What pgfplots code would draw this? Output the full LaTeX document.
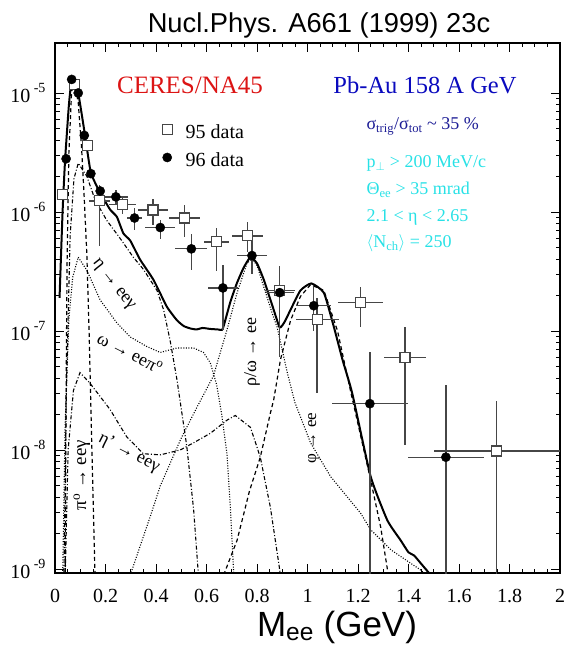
\documentclass[border=0pt]{standalone}
\usepackage{fontspec}
\setmainfont{Liberation Serif}
\newfontfamily\arial{Liberation Sans}
\usepackage{pgfplots}
\pgfplotsset{compat=1.18}
\usepackage{pgfplotstable}
\definecolor{ceresred}{RGB}{220,20,20}
\definecolor{pbblue}{RGB}{10,10,190}
\definecolor{sigblue}{RGB}{30,30,150}
\definecolor{cutcyan}{RGB}{40,225,230}
\definecolor{bargray}{RGB}{70,70,70}

\pgfplotstableread{
m     y       ex    eyp     eym
0.044 2.8e-6  0     0       0
0.066 1.3e-5  0     0       0
0.092 1.0e-5  0     0       0
0.116 4.4e-6  0     0       0
0.142 2.1e-6  0     0       0
0.179 1.5e-6  0     0       0
0.241 1.34e-6 0.05  0.2e-6  0.17e-6
0.315 8.9e-7  0.03  1.8e-7  1.8e-7
0.417 7.4e-7  0.06  1.2e-7  1.5e-7
0.540 4.9e-7  0.063 1.6e-7  1.66e-7
0.665 2.3e-7  0.06  1.26e-7 1.28e-7
0.780 4.3e-7  0.06  1.5e-7  1.27e-7
0.890 2.1e-7  0.055 0.8e-7  0.6e-7
1.025 1.63e-7 0.07  0.7e-7  0.63e-7
1.247 2.45e-8 0.15  4.15e-8 2.449e-8
1.548 8.7e-9  0.15  2.68e-8 8.699e-9
}\dataSix

\pgfplotstableread{
m     y       ex    eyp     eym
0.029 1.4e-6  0     0       0
0.079 1.18e-5 0     0       0
0.130 3.6e-6  0     0       0
0.176 1.24e-6 0.04  0.46e-6 0.72e-6
0.266 1.16e-6 0.053 0.19e-6 0.2e-6
0.388 1.04e-6 0.06  0.25e-6 0.26e-6
0.513 8.9e-7  0.06  2.6e-7  2.7e-7
0.639 5.6e-7  0.05  1.8e-7  2.4e-7
0.761 6.3e-7  0.062 2.0e-7  1.7e-7
0.890 2.2e-7  0.06  1.35e-7 1.6e-7
1.038 1.25e-7 0.085 6.5e-8  9.5e-8
1.210 1.74e-7 0.09  6.0e-8  6.7e-8
1.386 6.0e-8  0.085 4.7e-8  4.9e-8
1.749 9.8e-9  0.25  1.59e-8 9.799e-9
}\dataFive

\newcommand{\tenexp}[1]{10\,\raisebox{10pt}{\fontsize{14}{14}\selectfont #1}}

\begin{document}
\begin{tikzpicture}
\useasboundingbox (0pt,0pt) rectangle (572pt,666pt);
\begin{axis}[
  at={(55pt,93pt)}, anchor=south west,
  scale only axis, width=505pt, height=530pt,
  xmin=0, xmax=2, ymode=log, ymin=9.25e-10, ymax=2.63e-5,
  xtick={0,0.2,0.4,0.6,0.8,1,1.2,1.4,1.6,1.8,2},
  xticklabels={0,0.2,0.4,0.6,0.8,1,1.2,1.4,1.6,1.8,2},
  minor x tick num=3,
  ytick={1e-9,1e-8,1e-7,1e-6,1e-5},
  yticklabels={\tenexp{-9},\tenexp{-8},\tenexp{-7},\tenexp{-6},\tenexp{-5}},
  tick align=inside,
  major tick length=9pt, minor tick length=4.5pt,
  every tick/.style={black, line width=0.7pt},
  axis line style={line width=1.1pt},
  tick label style={font=\fontsize{20}{20}\selectfont},
  xticklabel style={font=\fontsize{20}{20}\selectfont, yshift=-13pt},
  yticklabel style={font=\fontsize{20}{20}\selectfont, xshift=-6pt},
  legend style={draw=none, fill=none, at={(0.205,0.8025)}, anchor=west,
    font=\fontsize{20}{20}\selectfont, inner sep=0pt, row sep=10pt,
    nodes={inner sep=0pt, text height=13pt, text depth=4pt}},
  legend cell align=left,
  legend image code/.code={\draw[draw=none] (0pt,0pt) -- (27pt,0pt); \draw[#1] plot coordinates {(8.5pt,5pt)};},
]
\addlegendimage{only marks, mark=square*, mark size=5pt, mark options={fill=white, draw=bargray, line width=1.1pt}}
\addlegendentry{95 data}
\addlegendimage{only marks, mark=*, mark size=4.6pt, black}
\addlegendentry{96 data}

% total cocktail
\addplot[black, line width=2pt, smooth, tension=0.3] coordinates {
(0.018,1.9e-7)(0.030,1.0e-6)(0.040,2.75e-6)(0.055,7.9e-6)(0.066,1.32e-5)(0.075,1.25e-5)(0.092,1.0e-5)(0.119,4.4e-6)(0.142,2.14e-6)(0.179,1.45e-6)(0.218,1.05e-6)(0.245,9.1e-7)(0.271,6.6e-7)(0.298,5.75e-7)(0.337,3.98e-7)(0.39,2.69e-7)(0.443,1.6e-7)(0.483,1.23e-7)(0.51,1.1e-7)(0.536,1.05e-7)(0.56,1.03e-7)(0.585,1.06e-7)(0.615,1.04e-7)(0.645,1.03e-7)(0.661,1.02e-7)(0.668,1.1e-7)(0.694,1.74e-7)(0.72,2.51e-7)(0.747,3.4e-7)(0.774,4.17e-7)(0.80,3.7e-7)(0.827,2.69e-7)(0.866,1.51e-7)(0.89,1.07e-7)(0.91,1.2e-7)(0.933,1.51e-7)(0.972,2.19e-7)(1.015,2.51e-7)(1.065,2.09e-7)(1.105,1.07e-7)(1.14,5.6e-8)(1.177,3.0e-8)(1.25,6.0e-9)(1.316,2.57e-9)(1.369,1.74e-9)(1.40,1.38e-9)(1.422,1.3e-9)(1.448,1.12e-9)(1.488,8.9e-10)
};
% pi0 Dalitz
\addplot[black, line width=1.2pt, dash pattern=on 4pt off 3pt] coordinates {
(0.040,7.9e-10)(0.044,3.16e-8)(0.048,3.98e-7)(0.055,3.16e-6)(0.066,1.05e-5)(0.08,1.12e-5)(0.092,8.3e-6)(0.105,3.55e-6)(0.115,1.41e-6)(0.126,4.47e-7)(0.135,1.0e-7)(0.145,1.26e-8)(0.159,7.9e-10)
};
% eta Dalitz
\addplot[black, line width=1.1pt, dash pattern=on 4pt off 2pt on 1pt off 2pt] coordinates {
(0.035,7.9e-10)(0.045,3.16e-8)(0.06,6.3e-7)(0.075,1.9e-6)(0.092,2.57e-6)(0.126,2.0e-6)(0.159,1.26e-6)(0.205,8.5e-7)(0.258,6.0e-7)(0.31,4.17e-7)(0.35,3.3e-7)(0.404,2.19e-7)(0.43,1.51e-7)(0.456,8.3e-8)(0.483,3.9e-8)(0.522,1.07e-8)(0.549,3.16e-9)(0.568,8.9e-10)
};
% omega Dalitz
\addplot[black, line width=1.1pt, dash pattern=on 1pt off 1.6pt] coordinates {
(0.03,7.9e-10)(0.04,1.58e-8)(0.055,1.26e-7)(0.07,2.82e-7)(0.092,4.17e-7)(0.126,3.24e-7)(0.179,1.82e-7)(0.245,1.17e-7)(0.298,8.9e-8)(0.364,7.4e-8)(0.417,6.6e-8)(0.483,7.2e-8)(0.549,7.2e-8)(0.588,6.6e-8)(0.615,5.4e-8)(0.64,3.55e-8)(0.66,2.0e-8)(0.681,9.3e-9)(0.695,3.16e-9)(0.708,8.9e-10)
};
% eta' Dalitz
\addplot[black, line width=1.1pt, dash pattern=on 4pt off 2pt on 1pt off 2pt] coordinates {
(0.04,7.9e-10)(0.052,1.0e-8)(0.073,3.16e-8)(0.099,4.47e-8)(0.139,3.63e-8)(0.218,2.19e-8)(0.284,1.29e-8)(0.35,9.3e-9)(0.417,9.1e-9)(0.496,1.0e-8)(0.549,1.15e-8)(0.615,1.38e-8)(0.681,1.78e-8)(0.714,1.95e-8)(0.774,1.55e-8)(0.813,8.7e-9)(0.853,3.3e-9)(0.893,8.9e-10)
};
% rho/omega -> ee
\addplot[black, line width=1.1pt, dash pattern=on 1pt off 1.6pt] coordinates {
(0.298,8.9e-10)(0.377,2.75e-9)(0.417,5.0e-9)(0.5,1.26e-8)(0.56,2.24e-8)(0.627,4.17e-8)(0.681,1.02e-7)(0.721,2.09e-7)(0.76,3.7e-7)(0.78,4.07e-7)(0.80,3.55e-7)(0.827,2.34e-7)(0.86,1.41e-7)(0.88,1.07e-7)(0.92,4.47e-8)(0.95,2.51e-8)(1.012,1.15e-8)(1.091,6.0e-9)(1.21,2.95e-9)(1.25,2.14e-9)(1.33,1.45e-9)(1.448,9.8e-10)(1.5,7.9e-10)
};
% phi -> ee
\addplot[black, line width=1.2pt, dash pattern=on 4pt off 3pt] coordinates {
(0.668,8.9e-10)(0.721,1.74e-9)(0.77,4.5e-9)(0.813,8.7e-9)(0.853,2.04e-8)(0.866,2.63e-8)(0.893,5.75e-8)(0.933,1.23e-7)(0.972,1.95e-7)(1.012,2.45e-7)(1.065,2.19e-7)(1.119,1.0e-7)(1.17,3.16e-8)(1.25,5.6e-9)(1.29,2.24e-9)(1.32,8.9e-10)
};

% 95 data
\addplot[only marks, mark=square*, mark size=5pt, mark options={fill=white, draw=bargray, line width=1.1pt},
  error bars/.cd, x dir=both, x explicit, y dir=both, y explicit,
  error mark=none, error bar style={line width=1.3pt, bargray}]
  table[x=m, y=y, x error=ex, y error plus=eyp, y error minus=eym] {\dataFive};
% 96 data
\addplot[only marks, mark=*, mark size=4.6pt, black,
  error bars/.cd, x dir=both, x explicit, y dir=both, y explicit,
  error mark=none, error bar style={line width=1.3pt, bargray}]
  table[x=m, y=y, x error=ex, y error plus=eyp, y error minus=eym] {\dataSix};
\end{axis}

% title and axis label
\node[font=\arial\fontsize{27.3}{27.3}\selectfont] at (319pt,641pt) {Nucl.Phys. A661 (1999) 23c};
\node[font=\arial\fontsize{35}{35}\selectfont] at (337pt,39pt) {M\textsubscript{ee} (GeV)};

% header texts
\node[font=\fontsize{25}{25}\selectfont, text=ceresred] at (190pt,581pt) {CERES/NA45};
\node[font=\fontsize{24.5}{24.5}\selectfont, text=pbblue] at (425pt,581pt) {Pb-Au 158 A GeV};
\node[anchor=base west, font=\fontsize{18}{18}\selectfont, text=sigblue] at (363pt,536pt) {σ\textsubscript{trig}/σ\textsubscript{tot} \textasciitilde{} 35 \%};
\node[anchor=base west, font=\fontsize{18}{18}\selectfont, text=cutcyan] at (363pt,498pt) {p\textsubscript{$\perp$} > 200 MeV/c};
\node[anchor=base west, font=\fontsize{18}{18}\selectfont, text=cutcyan] at (363pt,471pt) {Θ\textsubscript{ee} > 35 mrad};
\node[anchor=base west, font=\fontsize{18}{18}\selectfont, text=cutcyan] at (363pt,444pt) {2.1 < η < 2.65};
\node[anchor=base west, font=\fontsize{18}{18}\selectfont, text=cutcyan] at (363pt,418pt) {$\langle$N\textsubscript{ch}$\rangle$ = 250};

% curve labels
\node[rotate=-52, font=\fontsize{18}{18}\selectfont] at (113pt,381pt) {η → eeγ};
\node[rotate=-27, font=\fontsize{18}{18}\selectfont] at (130pt,313pt) {ω → eeπ\textsuperscript{o}};
\node[rotate=-27, font=\fontsize{18}{18}\selectfont] at (129pt,213pt) {η' → eeγ};
\node[rotate=90, font=\fontsize{19}{19}\selectfont] at (82pt,191pt) {π\textsuperscript{o} → eeγ};
\node[rotate=90, font=\fontsize{18}{18}\selectfont] at (252pt,314pt) {ρ/ω → ee};
\node[rotate=90, font=\fontsize{17}{17}\selectfont] at (314pt,228pt) {φ → ee};
\end{tikzpicture}
\end{document}
